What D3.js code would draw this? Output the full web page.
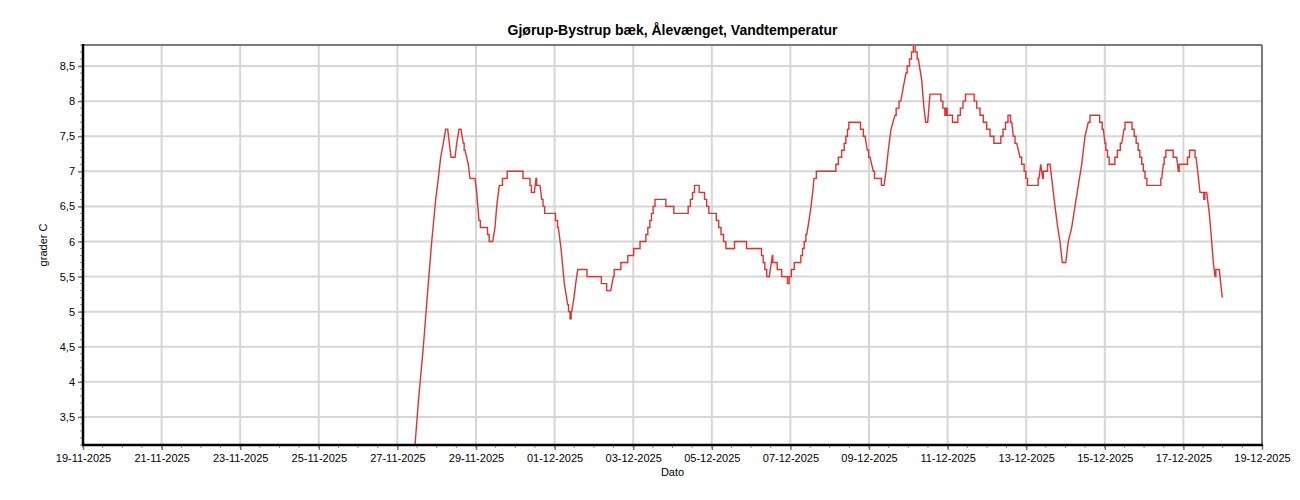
<!DOCTYPE html>
<html>
<head>
<meta charset="utf-8">
<script src="https://cdn.jsdelivr.net/npm/d3@7"></script>
<style>
  html, body { margin: 0; padding: 0; background: #fff; }
  svg text { font-family: "Liberation Sans", Arial, sans-serif; }
</style>
</head>
<body>
<svg id="chart" width="1300" height="500"></svg>
<script>
// ---------- data ----------
const chartTitle = "Gjørup-Bystrup bæk, Ålevænget, Vandtemperatur";
const yLabel = "grader C";
const xLabel = "Dato";

const xDomain = ["2025-11-19T00:00", "2025-12-19T00:00"];
const yDomain = [3.1, 8.8];
const yTicks = [3.5, 4, 4.5, 5, 5.5, 6, 6.5, 7, 7.5, 8, 8.5];
const xTickLabels = ["19-11-2025", "21-11-2025", "23-11-2025", "25-11-2025", "27-11-2025",
  "29-11-2025", "01-12-2025", "03-12-2025", "05-12-2025", "07-12-2025", "09-12-2025",
  "11-12-2025", "13-12-2025", "15-12-2025", "17-12-2025", "19-12-2025"];

const times = [
  "2025-11-27T10:45","2025-11-27T12:45","2025-11-27T15:50","2025-11-27T18:52","2025-11-27T20:57",
  "2025-11-27T23:23","2025-11-28T00:59","2025-11-28T02:26","2025-11-28T04:02","2025-11-28T05:30",
  "2025-11-28T06:43","2025-11-28T08:44","2025-11-28T11:11","2025-11-28T12:13","2025-11-28T13:37",
  "2025-11-28T14:50","2025-11-28T16:15","2025-11-28T17:17","2025-11-28T19:18","2025-11-28T20:20",
  "2025-11-28T23:23","2025-11-29T00:26","2025-11-29T01:50","2025-11-29T03:29","2025-11-29T06:32",
  "2025-11-29T07:31","2025-11-29T08:33","2025-11-29T10:11","2025-11-29T11:36","2025-11-29T12:38",
  "2025-11-29T14:14","2025-11-29T15:41","2025-11-29T16:40","2025-11-29T18:45","2025-11-29T19:22",
  "2025-11-30T04:17","2025-11-30T05:08","2025-11-30T08:22","2025-11-30T09:35","2025-11-30T10:01",
  "2025-11-30T11:37","2025-11-30T12:38","2025-11-30T13:26","2025-11-30T15:05","2025-11-30T16:07",
  "2025-11-30T17:43","2025-11-30T18:08","2025-11-30T23:49","2025-12-01T01:17","2025-12-01T02:16",
  "2025-12-01T03:55","2025-12-01T05:56","2025-12-01T08:00","2025-12-01T08:59","2025-12-01T09:50",
  "2025-12-01T10:26","2025-12-01T11:51","2025-12-01T12:53","2025-12-01T14:07","2025-12-01T19:36",
  "2025-12-01T19:58","2025-12-02T04:20","2025-12-02T04:46","2025-12-02T07:23","2025-12-02T08:11",
  "2025-12-02T10:16","2025-12-02T11:51","2025-12-02T12:53","2025-12-02T15:56","2025-12-02T16:59",
  "2025-12-02T20:24","2025-12-02T21:01","2025-12-03T00:04","2025-12-03T00:29","2025-12-03T03:44",
  "2025-12-03T04:35","2025-12-03T07:13","2025-12-03T08:14","2025-12-03T09:39","2025-12-03T10:41",
  "2025-12-03T11:40","2025-12-03T12:42","2025-12-03T13:56","2025-12-03T19:25","2025-12-03T20:28",
  "2025-12-04T00:29","2025-12-04T01:06","2025-12-04T09:02","2025-12-04T10:05","2025-12-04T11:44",
  "2025-12-04T12:42","2025-12-04T14:10","2025-12-04T15:46","2025-12-04T16:48","2025-12-04T18:49",
  "2025-12-04T20:16","2025-12-04T21:29","2025-12-04T22:54","2025-12-05T02:08","2025-12-05T03:22",
  "2025-12-05T05:01","2025-12-05T06:14","2025-12-05T08:04","2025-12-05T09:06","2025-12-05T13:34",
  "2025-12-05T14:10","2025-12-05T20:42","2025-12-05T21:41","2025-12-06T05:52","2025-12-06T06:50",
  "2025-12-06T07:53","2025-12-06T08:55","2025-12-06T10:08","2025-12-06T11:07","2025-12-06T12:57",
  "2025-12-06T13:34","2025-12-06T15:38","2025-12-06T16:14","2025-12-06T18:16","2025-12-06T19:04",
  "2025-12-06T21:44","2025-12-06T22:43","2025-12-06T23:46","2025-12-07T01:25","2025-12-07T03:14",
  "2025-12-07T05:52","2025-12-07T06:54","2025-12-07T07:53","2025-12-07T08:55","2025-12-07T09:58",
  "2025-12-07T11:22","2025-12-07T12:35","2025-12-07T13:37","2025-12-07T14:25","2025-12-07T15:38",
  "2025-12-07T16:04","2025-12-08T03:14","2025-12-08T04:17","2025-12-08T06:17","2025-12-08T08:19",
  "2025-12-08T09:21","2025-12-08T10:23","2025-12-08T11:22","2025-12-08T11:58","2025-12-08T18:05",
  "2025-12-08T19:33","2025-12-08T21:34","2025-12-08T22:58","2025-12-09T00:37","2025-12-09T02:38",
  "2025-12-09T04:05","2025-12-09T06:43","2025-12-09T08:22","2025-12-09T09:10","2025-12-09T10:23",
  "2025-12-09T11:47","2025-12-09T13:26","2025-12-09T15:53","2025-12-09T17:17","2025-12-09T19:22",
  "2025-12-09T20:57","2025-12-09T22:36","2025-12-10T00:00","2025-12-10T01:28","2025-12-10T02:27",
  "2025-12-10T03:40","2025-12-10T04:42","2025-12-10T06:07","2025-12-10T08:11","2025-12-10T09:35",
  "2025-12-10T10:38","2025-12-10T11:51","2025-12-10T13:15","2025-12-10T19:22","2025-12-10T20:24",
  "2025-12-10T21:48","2025-12-10T22:50","2025-12-10T23:27","2025-12-11T00:04","2025-12-11T02:30",
  "2025-12-11T03:29","2025-12-11T05:34","2025-12-11T06:58","2025-12-11T08:37","2025-12-11T10:12",
  "2025-12-11T11:40","2025-12-11T15:42","2025-12-11T16:44","2025-12-11T18:45","2025-12-11T20:50",
  "2025-12-11T22:50","2025-12-12T00:52","2025-12-12T02:56","2025-12-12T05:34","2025-12-12T08:00",
  "2025-12-12T09:02","2025-12-12T10:38","2025-12-12T12:05","2025-12-12T13:41","2025-12-12T15:09",
  "2025-12-12T16:08","2025-12-12T18:12","2025-12-12T20:13","2025-12-12T22:14","2025-12-12T23:16",
  "2025-12-13T00:19","2025-12-13T01:17","2025-12-13T06:47","2025-12-13T07:49","2025-12-13T08:52",
  "2025-12-13T10:05","2025-12-13T10:52","2025-12-13T12:31","2025-12-13T13:30","2025-12-13T14:32",
  "2025-12-13T15:34","2025-12-13T17:35","2025-12-13T19:14","2025-12-13T20:38","2025-12-13T22:03",
  "2025-12-14T00:08","2025-12-14T01:43","2025-12-14T03:47","2025-12-14T05:48","2025-12-14T07:49",
  "2025-12-14T09:54","2025-12-14T11:55","2025-12-14T13:56","2025-12-14T16:00","2025-12-14T20:02",
  "2025-12-14T21:41","2025-12-14T23:05","2025-12-15T00:08","2025-12-15T01:10","2025-12-15T02:08",
  "2025-12-15T03:11","2025-12-15T05:37","2025-12-15T06:40","2025-12-15T08:40","2025-12-15T10:19",
  "2025-12-15T11:44","2025-12-15T12:57","2025-12-15T15:49","2025-12-15T17:25","2025-12-15T18:27",
  "2025-12-15T19:51","2025-12-15T20:53","2025-12-15T21:55","2025-12-15T23:09","2025-12-15T23:56",
  "2025-12-16T01:10","2025-12-16T02:12","2025-12-16T09:43","2025-12-16T10:45","2025-12-16T11:44",
  "2025-12-16T12:46","2025-12-16T13:49","2025-12-16T17:14","2025-12-16T18:16","2025-12-16T19:55",
  "2025-12-16T20:53","2025-12-16T21:56","2025-12-17T02:01","2025-12-17T03:00","2025-12-17T04:28",
  "2025-12-17T06:29","2025-12-17T07:42","2025-12-17T08:44","2025-12-17T10:08","2025-12-17T12:10",
  "2025-12-17T12:46","2025-12-17T13:23","2025-12-17T14:14","2025-12-17T15:49","2025-12-17T17:17",
  "2025-12-17T18:16","2025-12-17T19:18","2025-12-17T20:20","2025-12-17T21:56","2025-12-17T22:47",
  "2025-12-17T23:46"
];

const temps = [
  3.1,3.7,4.5,5.4,6.0, 6.6,6.9,7.2,7.4,7.6, 7.6,7.2,7.2,7.4,7.6, 7.6,7.4,7.3,7.1,6.9,
  6.9,6.7,6.3,6.2,6.2, 6.1,6.0,6.0,6.2,6.5, 6.8,6.8,6.9,6.9,7.0,
  7.0,6.9,6.9,6.8,6.7, 6.7,6.9,6.8,6.8,6.6, 6.5,6.4,6.4,6.3,6.2,
  5.9,5.4,5.1,5.0,4.9, 5.0,5.2,5.4,5.6,5.6, 5.5,5.5,5.4,5.4,5.3,
  5.3,5.5,5.6,5.6,5.7, 5.7,5.8,5.8,5.9,5.9, 6.0,6.0,6.1,6.2,6.3,
  6.4,6.5,6.6,6.6,6.5, 6.5,6.4,6.4,6.5,6.6, 6.7,6.8,6.8,6.7,6.7,
  6.6,6.5,6.4,6.4,6.3, 6.2,6.1,6.0,5.9,5.9, 6.0,6.0,5.9,5.9,5.8,
  5.7,5.6,5.5,5.5,5.8, 5.7,5.7,5.6,5.6,5.5, 5.5,5.4,5.5,5.6,5.7,
  5.7,5.8,5.9,6.0,6.1, 6.3,6.5,6.7,6.9,6.9, 7.0,7.0,7.1,7.2,7.3,
  7.4,7.5,7.6,7.7,7.7, 7.6,7.5,7.3,7.2,7.0, 6.9,6.9,6.8,6.8,7.0,
  7.3,7.6,7.8,7.9,8.0, 8.2,8.4,8.5,8.6,8.7, 8.8,8.7,8.6,8.3,7.9,
  7.7,7.7,8.1,8.1,8.0, 7.9,7.8,7.9,7.8,7.8, 7.7,7.7,7.8,7.9,8.0,
  8.1,8.1,8.0,7.9,7.8, 7.7,7.6,7.5,7.4,7.4, 7.5,7.6,7.7,7.8,7.7,
  7.5,7.4,7.2,7.1,7.0, 6.9,6.8,6.8,6.9,7.1, 6.9,7.0,7.0,7.1,7.1,
  6.9,6.5,6.2,6.0,5.7, 5.7,6.0,6.2,6.5,6.8, 7.1,7.5,7.7,7.8,7.8,
  7.7,7.6,7.4,7.3,7.2, 7.1,7.1,7.2,7.3,7.4, 7.6,7.7,7.7,7.6,7.5,
  7.4,7.3,7.2,7.1,7.0, 6.9,6.8,6.8,6.9,7.1, 7.2,7.3,7.3,7.2,7.2,
  7.0,7.1,7.1,7.2,7.3, 7.3,7.2,7.0,6.7,6.7, 6.6,6.7,6.7,6.4,6.0,
  5.7,5.5,5.6,5.6,5.4, 5.2
];

// ---------- layout ----------
const W = 1300, H = 500;
const margin = { left: 83, right: 38, top: 45, bottom: 55 };
const x0 = margin.left, x1 = W - margin.right, y0 = margin.top, y1 = H - margin.bottom;

const parseT = d3.timeParse("%Y-%m-%dT%H:%M");
const parseD = d3.timeParse("%d-%m-%Y");
const fmtLocale = d3.formatLocale({ decimal: ",", thousands: ".", grouping: [3], currency: ["", " kr."] });
const yFmt = fmtLocale.format("~g");

const x = d3.scaleTime().domain(xDomain.map(parseT)).range([x0, x1]);
const y = d3.scaleLinear().domain(yDomain).range([y1, y0]);

const data = times.map((t, i) => ({ t: parseT(t), v: temps[i] }));
const xTickDates = xTickLabels.map(parseD);

// Sensor readings have 0.1 °C resolution: single-step changes are drawn as
// stair steps (change at the midpoint between readings), larger changes as slopes.
const drawPts = [];
data.forEach((d, i) => {
  if (i > 0) {
    const p = data[i - 1];
    if (Math.abs(d.v - p.v) > 0.001 && Math.abs(d.v - p.v) <= 0.1001) {
      const tm = new Date((p.t.getTime() + d.t.getTime()) / 2);
      drawPts.push({ t: tm, v: p.v }, { t: tm, v: d.v });
    }
  }
  drawPts.push(d);
});

const svg = d3.select("#chart");
svg.append("rect").attr("width", W).attr("height", H).attr("fill", "#fff");

// grid
const grid = svg.append("g");
grid.selectAll("line.hy").data(yTicks).join("line")
  .attr("x1", x0).attr("x2", x1)
  .attr("y1", d => y(d)).attr("y2", d => y(d))
  .attr("stroke", "#d6d6d6").attr("stroke-width", 2);
grid.selectAll("line.vx").data(xTickDates.filter(d => x(d) > x0 + 1 && x(d) < x1 - 1)).join("line")
  .attr("x1", d => x(d)).attr("x2", d => x(d))
  .attr("y1", y0).attr("y2", y1)
  .attr("stroke", "#d6d6d6").attr("stroke-width", 2);

// data line
svg.append("path").datum(drawPts)
  .attr("fill", "none")
  .attr("stroke", "#e23131")
  .attr("stroke-width", 1.4)
  .attr("stroke-linejoin", "miter")
  .attr("d", d3.line().x(d => x(d.t)).y(d => y(d.v)));

// minor ticks
const minorY = d3.range(31, 89).map(d => d / 10);
svg.append("g").selectAll("line").data(minorY).join("line")
  .attr("x1", x0 - 3).attr("x2", x0)
  .attr("y1", d => y(d)).attr("y2", d => y(d))
  .attr("stroke", "#8c8c8c").attr("stroke-width", 1);
const minorX = d3.timeHour.every(12).range(x.domain()[0], x.domain()[1]);
svg.append("g").selectAll("line").data(minorX).join("line")
  .attr("x1", d => x(d)).attr("x2", d => x(d))
  .attr("y1", y1).attr("y2", y1 + 3)
  .attr("stroke", "#8c8c8c").attr("stroke-width", 1);

// axes
const yAxis = d3.axisLeft(y).tickValues(yTicks).tickFormat(yFmt).tickSize(5).tickPadding(3);
const gy = svg.append("g").attr("transform", `translate(${x0},0)`).call(yAxis);
gy.select(".domain").remove();
gy.selectAll(".tick line").attr("stroke", "#777").attr("stroke-width", 1.5);
gy.selectAll(".tick text").attr("font-size", 11).attr("fill", "#000")
  .attr("font-family", "'Liberation Sans', Arial, sans-serif");

const xAxis = d3.axisBottom(x).tickValues(xTickDates).tickFormat((d, i) => xTickLabels[i]).tickSize(5).tickPadding(4);
const gx = svg.append("g").attr("transform", `translate(0,${y1})`).call(xAxis);
gx.select(".domain").remove();
gx.selectAll(".tick line").attr("stroke", "#777").attr("stroke-width", 1.5);
gx.selectAll(".tick text").attr("font-size", 11).attr("fill", "#000")
  .attr("font-family", "'Liberation Sans', Arial, sans-serif");

// frame
svg.append("line").attr("x1", x0).attr("x2", x1).attr("y1", y0).attr("y2", y0)
  .attr("stroke", "#7a7a7a").attr("stroke-width", 2);
svg.append("line").attr("x1", x1).attr("x2", x1).attr("y1", y0).attr("y2", y1)
  .attr("stroke", "#7a7a7a").attr("stroke-width", 2);
svg.append("line").attr("x1", x0).attr("x2", x0).attr("y1", y0 - 1).attr("y2", y1 + 1)
  .attr("stroke", "#000").attr("stroke-width", 2.5);
svg.append("line").attr("x1", x0 - 1).attr("x2", x1 + 1).attr("y1", y1).attr("y2", y1)
  .attr("stroke", "#000").attr("stroke-width", 2.5);

// titles
svg.append("text").attr("x", (x0 + x1) / 2).attr("y", 35)
  .attr("text-anchor", "middle").attr("font-size", 14).attr("font-weight", "bold")
  .attr("fill", "#000").text(chartTitle);
svg.append("text").attr("transform", `translate(47,${(y0 + y1) / 2}) rotate(-90)`)
  .attr("text-anchor", "middle").attr("font-size", 11).attr("fill", "#000").text(yLabel);
svg.append("text").attr("x", (x0 + x1) / 2).attr("y", 476)
  .attr("text-anchor", "middle").attr("font-size", 11).attr("fill", "#000").text(xLabel);
</script>
</body>
</html>
